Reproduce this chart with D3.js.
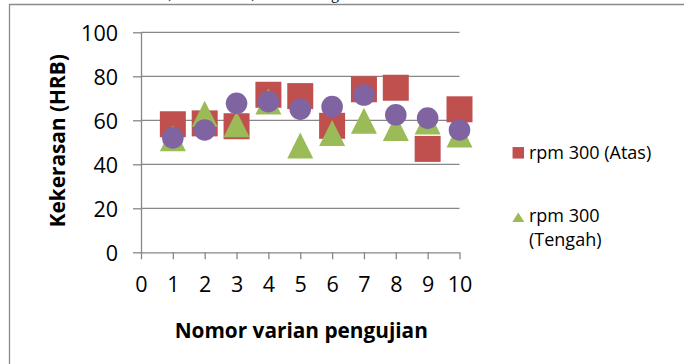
<!DOCTYPE html>
<html>
<head>
<meta charset="utf-8">
<script src="https://cdn.jsdelivr.net/npm/d3@7/dist/d3.min.js"></script>
<style>
  html, body { margin: 0; padding: 0; background: #fff; }
  svg { display: block; }
  text { font-family: "Open Sans", sans-serif; fill: #000; }
</style>
</head>
<body>
<svg id="chart" width="685" height="364"></svg>
<script>
// Hardness test results, one value per test variant
const categories = [1, 2, 3, 4, 5, 6, 7, 8, 9, 10];
const atas   = [58.2, 58.6, 57.3, 71.6, 71.0, 57.5, 74.1, 74.8, 47.0, 65.0];
const tengah = [51.8, 63.0, 58.2, 68.6, 48.5, 54.2, 59.8, 56.5, 59.5, 53.6];
const bawah  = [52.0, 55.6, 67.7, 68.5, 65.1, 66.2, 71.5, 62.5, 61.0, 55.6];

const xTicks = [0, 1, 2, 3, 4, 5, 6, 7, 8, 9, 10];
const yTicks = [0, 20, 40, 60, 80, 100];

const seriesNames = ["rpm 300 (Atas)", "rpm 300 (Tengah)", "rpm 300 (Bawah)"];
const xTitle = "Nomor varian pengujian";
const yTitle = "Kekerasan (HRB)";

const svg = d3.select("#chart");
const gridColor = "#878787";
const colors = { atas: "#C0504D", tengah: "#9BBB59", bawah: "#8064A2" };

// page frame around the chart object
svg.append("path")
  .attr("d", "M9.5,364 V4.5 H684")
  .attr("fill", "none").attr("stroke", "#8a8a8a").attr("stroke-width", 1.3);

// descenders of the text line above the chart
[[168, ","], [251, ","], [331, "g"]].forEach(([px, ch]) => {
  svg.append("text").attr("x", px).attr("y", -1.5)
    .style("font-family", "'Liberation Serif', serif").attr("font-size", 16).text(ch);
});

const x = d3.scaleLinear().domain([0, 10]).range([141, 459.5]);
const y = d3.scaleLinear().domain([0, 100]).range([252.3, 32.3]);

// horizontal gridlines
svg.append("g").selectAll("line").data(yTicks.filter(d => d > 0)).join("line")
  .attr("x1", x(0)).attr("x2", x(10))
  .attr("y1", d => y(d)).attr("y2", d => y(d))
  .attr("stroke", gridColor).attr("stroke-width", 1.3);

// y axis
const yAxis = svg.append("g").attr("transform", `translate(${x(0)},0)`)
  .call(d3.axisLeft(y).tickValues(yTicks).tickSizeInner(8).tickSizeOuter(0).tickPadding(15));
yAxis.select(".domain").attr("stroke", gridColor).attr("stroke-width", 1.3);
yAxis.selectAll(".tick line").attr("stroke", gridColor).attr("stroke-width", 1.3);
yAxis.selectAll(".tick text").style("font-family", "'Open Sans', sans-serif")
  .attr("font-size", 21.5).attr("fill", "#000").attr("dy", "0.36em");

// x axis
const xAxis = svg.append("g").attr("transform", `translate(0,${y(0)})`)
  .call(d3.axisBottom(x).tickValues(xTicks).tickSizeInner(7).tickSizeOuter(0).tickPadding(17));
xAxis.select(".domain").attr("stroke", gridColor).attr("stroke-width", 1.3);
xAxis.selectAll(".tick line").attr("stroke", gridColor).attr("stroke-width", 1.3);
xAxis.selectAll(".tick text").style("font-family", "'Open Sans', sans-serif")
  .attr("font-size", 21.5).attr("fill", "#000");

// axis titles
svg.append("text")
  .attr("transform", `translate(65,${(y(0) + y(100)) / 2 - 1.5}) rotate(-90)`)
  .attr("text-anchor", "middle")
  .attr("font-weight", "bold").attr("font-size", 20.8)
  .text(yTitle);

svg.append("text")
  .attr("x", (x(0) + x(10)) / 2 + 1).attr("y", 337.5)
  .attr("text-anchor", "middle")
  .attr("font-weight", "bold").attr("font-size", 20.8)
  .text(xTitle);

// marker shapes
const SQ = 26, TRI_W = 26, TRI_H = 26, CIRC_R = 10.8;
const squarePath = (cx, cy, s) =>
  `M${cx - s / 2},${cy - s / 2}h${s}v${s}h${-s}Z`;
const trianglePath = (cx, cy, w, h) =>
  `M${cx},${cy - h / 2}L${cx + w / 2},${cy + h / 2}L${cx - w / 2},${cy + h / 2}Z`;

const marks = svg.append("g");
marks.selectAll("path.atas").data(categories).join("path")
  .attr("class", "atas")
  .attr("d", (c, i) => squarePath(x(c), y(atas[i]), SQ))
  .attr("fill", colors.atas);

marks.selectAll("path.tengah").data(categories).join("path")
  .attr("class", "tengah")
  .attr("d", (c, i) => trianglePath(x(c), y(tengah[i]), TRI_W, TRI_H))
  .attr("fill", colors.tengah);

marks.selectAll("circle.bawah").data(categories).join("circle")
  .attr("class", "bawah")
  .attr("cx", c => x(c)).attr("cy", (c, i) => y(bawah[i]))
  .attr("r", CIRC_R)
  .attr("fill", colors.bawah);

// legend
const legend = svg.append("g").attr("font-size", 18);
legend.append("path").attr("d", squarePath(518.3, 152.8, 11.5)).attr("fill", colors.atas);
legend.append("text").attr("x", 529).attr("y", 159).text(seriesNames[0]);

legend.append("path").attr("d", trianglePath(518.3, 217.3, 12, 9.5)).attr("fill", colors.tengah);
const t2 = legend.append("text").attr("x", 529).attr("y", 222);
t2.append("tspan").attr("x", 529).text("rpm 300");
t2.append("tspan").attr("x", 529).attr("dy", 23.5).text("(Tengah)");
</script>
</body>
</html>
